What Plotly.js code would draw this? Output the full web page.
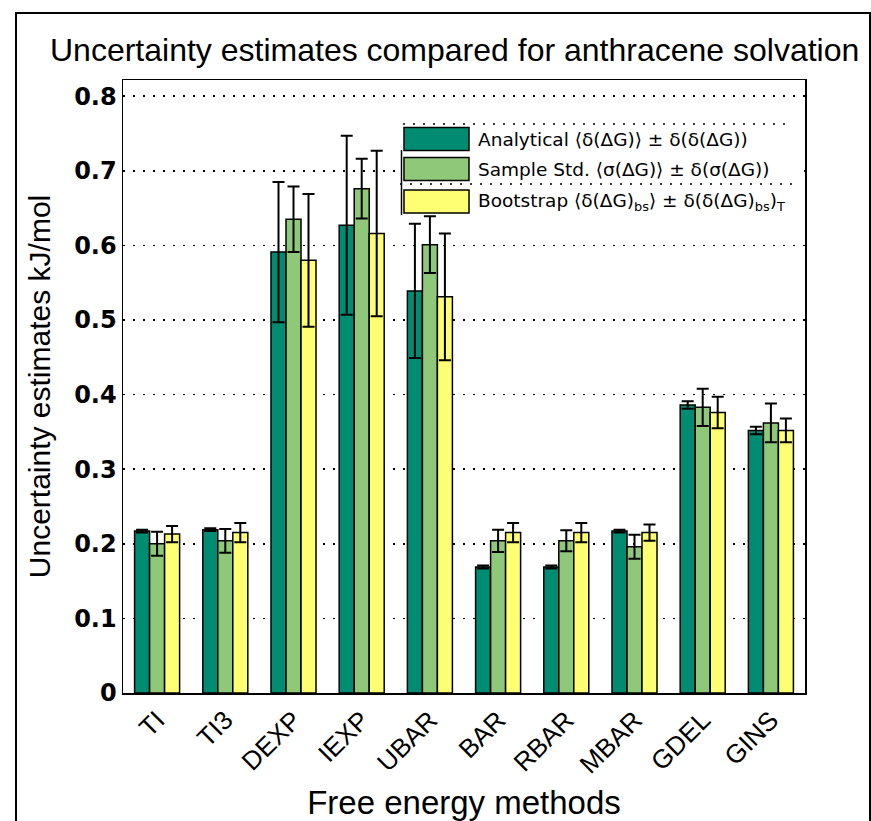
<!DOCTYPE html>
<html>
<head>
<meta charset="utf-8">
<script src="https://cdn.plot.ly/plotly-3.0.1.min.js"></script>
<style>
html,body{margin:0;padding:0;background:#fff;}
#wrap{position:relative;width:871px;height:821px;overflow:hidden;}
#chart{width:871px;height:821px;}
#frame{position:absolute;left:15px;top:12px;width:852px;height:900px;border:2px solid #000;pointer-events:none;}
</style>
</head>
<body>
<div id="wrap">
<div id="chart"></div>
<div id="frame"></div>
</div>
<script>
const methods = ["TI","TI3","DEXP","IEXP","UBAR","BAR","RBAR","MBAR","GDEL","GINS"];
const analytical    = [0.217,0.219,0.591,0.627,0.539,0.169,0.169,0.217,0.386,0.352];
const analyticalErr = [0.002,0.002,0.094,0.120,0.090,0.002,0.002,0.002,0.005,0.005];
const sampleStd     = [0.200,0.204,0.635,0.676,0.601,0.204,0.204,0.196,0.383,0.362];
const sampleStdErr  = [0.016,0.016,0.044,0.040,0.038,0.015,0.014,0.016,0.025,0.026];
const bootstrap     = [0.213,0.215,0.580,0.616,0.531,0.215,0.215,0.215,0.376,0.352];
const bootstrapErr  = [0.011,0.013,0.089,0.111,0.085,0.013,0.013,0.011,0.021,0.016];
const seriesNames = [
  "Analytical ⟨δ(ΔG)⟩ ± δ(δ(ΔG))",
  "Sample Std. ⟨σ(ΔG)⟩ ± δ(σ(ΔG))",
  "Bootstrap ⟨δ(ΔG)<sub>bs</sub>⟩ ± δ(δ(ΔG)<sub>bs</sub>)<sub>T</sub>"
];
const colors = ["#008c72","#8ec878","#ffff73"];
const yTicks = [0,0.1,0.2,0.3,0.4,0.5,0.6,0.7,0.8];

const W = 871, H = 821;
const M = {l:123, r:66, t:80, b:128};
const pw = W - M.l - M.r, ph = H - M.t - M.b;
const px = x => (x - M.l)/pw;
const py = y => (H - M.b - y)/ph;

function barTrace(name, vals, errs, color){
  return {
    type:"bar", name:name, x:methods, y:vals,
    marker:{color:color, line:{color:"#000", width:1.5}},
    error_y:{type:"data", array:errs, visible:true, color:"#000", thickness:2, width:6},
    showlegend:false
  };
}
const data = [
  barTrace(seriesNames[0], analytical, analyticalErr, colors[0]),
  barTrace(seriesNames[1], sampleStd, sampleStdErr, colors[1]),
  barTrace(seriesNames[2], bootstrap, bootstrapErr, colors[2])
];

// custom legend (decoration, paper coordinates)
const shapes = [
  {type:"rect", xref:"paper", yref:"paper", x0:px(400), x1:px(804), y0:py(214), y1:py(122),
   fillcolor:"#fff", line:{width:0}, layer:"above"},
  {type:"line", xref:"paper", yref:"paper", x0:px(403), x1:px(792), y0:py(124), y1:py(124),
   line:{color:"#000", width:1.5, dash:"2px,8px"}, layer:"above"},
  {type:"line", xref:"paper", yref:"paper", x0:px(400), x1:px(792), y0:py(184), y1:py(184),
   line:{color:"#000", width:1.5, dash:"2px,8px"}, layer:"above"},
  {type:"line", xref:"paper", yref:"paper", x0:px(401.5), x1:px(401.5), y0:py(150), y1:py(215),
   line:{color:"#000", width:1.5}, layer:"above"}
];
const rowsY = [139,169,201.5];
const annotations = [];
rowsY.forEach((cy,i)=>{
  shapes.push({type:"rect", xref:"paper", yref:"paper", x0:px(404), x1:px(469), y0:py(cy+11.5), y1:py(cy-11.5),
    fillcolor:colors[i], line:{color:"#000", width:1.5}, layer:"above"});
  annotations.push({xref:"paper", yref:"paper", x:px(476), y:py(cy), xanchor:"left", yanchor:"middle",
    text:seriesNames[i], showarrow:false, font:{family:"DejaVu Sans", size:18.5, color:"#000"}});
});

const layout = {
  width:W, height:H,
  margin:M,
  paper_bgcolor:"#fff", plot_bgcolor:"#fff",
  title:{text:"Uncertainty estimates compared for anthracene solvation",
    font:{family:"Liberation Sans", size:32, color:"#000"},
    xref:"container", x:50/W, xanchor:"left", yref:"container", y:1-50/H, yanchor:"middle"},
  barmode:"group", bargap:0.34, bargroupgap:0,
  xaxis:{
    range:[-0.5,9.5], tickangle:-45, showline:true, mirror:true, linecolor:"#000", linewidth:1.5,
    ticks:"", tickfont:{family:"Liberation Sans", size:26, color:"#000"},
    title:{text:"Free energy methods", font:{family:"Liberation Sans", size:33, color:"#000"}, standoff:12},
    automargin:false
  },
  yaxis:{
    range:[0,(H-M.b-M.t)/746*1], tickvals:yTicks, ticktext:yTicks.map(v=>String(v)),
    showgrid:true, gridcolor:"#000", gridwidth:1.5, griddash:"2px,8px",
    zeroline:false, showline:true, mirror:true, linecolor:"#000", linewidth:1.5,
    ticks:"", tickfont:{family:"DejaVu Sans", size:24, color:"#000", weight:"bold"},
    title:{text:"Uncertainty estimates kJ/mol", font:{family:"Liberation Sans", size:30, color:"#000"}, standoff:14},
    automargin:false
  },
  shapes:shapes, annotations:annotations
};
Plotly.newPlot("chart", data, layout, {staticPlot:true});
</script>
</body>
</html>
